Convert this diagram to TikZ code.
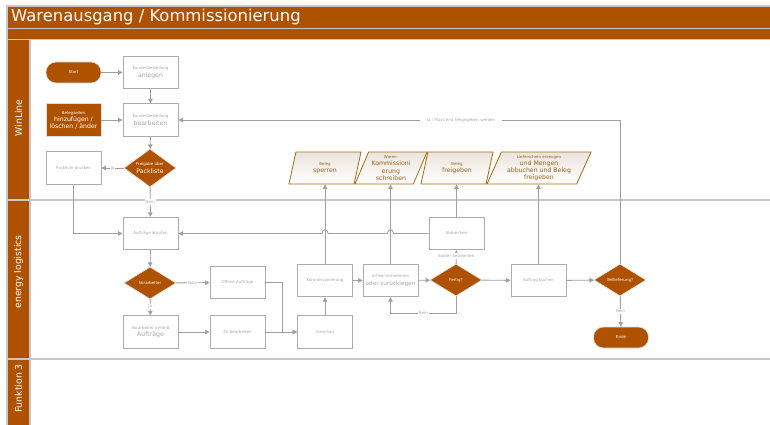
\documentclass[tikz,border=0pt]{standalone}
\usepackage{fontspec}
\setmainfont{DejaVu Sans}
\usetikzlibrary{shapes.geometric,arrows.meta}
\definecolor{brn}{RGB}{175,82,0}
\definecolor{bgray}{RGB}{172,172,172}
\definecolor{tgray}{RGB}{168,168,168}
\definecolor{cgray}{RGB}{160,160,160}
\definecolor{lgray}{RGB}{200,200,200}
\definecolor{gold}{RGB}{160,108,20}
\definecolor{goldtxt}{RGB}{150,100,30}
\definecolor{pfill}{RGB}{236,228,220}
\newcommand{\tny}{\fontsize{4}{5}\selectfont}
\newcommand{\med}{\fontsize{6.2}{7.2}\selectfont}
\begin{document}
\begin{tikzpicture}[x=1pt,y=-1pt,
 box/.style={draw=bgray, line width=0.9pt, fill=white, minimum width=55pt, minimum height=32.5pt, inner sep=1pt, text=tgray, align=center, font=\med},
 bbox/.style={box, fill=brn, draw=white!75!gray, text=white},
 dia/.style={diamond, draw=white!75!gray, line width=0.6pt, fill=brn, minimum width=52pt, minimum height=32pt, inner sep=0pt, text=white, align=center, font=\med},
 term/.style={rectangle, rounded corners=10pt, draw=white!75!gray, line width=0.6pt, fill=brn, minimum width=55pt, minimum height=21pt, text=white, inner sep=0pt, font=\tny},
 para/.style={trapezium, trapezium left angle=62, trapezium right angle=118, trapezium stretches body, draw=gold, line width=0.8pt, top color=pfill, bottom color=white, minimum height=32pt, inner sep=0.5pt, text=goldtxt, align=center, font=\med},
 conn/.style={draw=cgray, line width=0.9pt, -{Triangle[length=4.5pt,width=4.5pt]}},
 lab/.style={fill=white, text=tgray, inner sep=1pt, font=\tny},
 lanebox/.style={draw=lgray, line width=1.2pt, fill=brn},
 lanetxt/.style={rotate=90, text=white, font=\fontsize{9.3}{11}\selectfont, inner sep=0pt},
]
\useasboundingbox (0,0) rectangle (770,425);
\fill[white] (0,0) rectangle (770,425);
% header and lanes
\draw[lanebox] (7,6) rectangle (773,28.5);
\draw[lanebox] (7,28.5) rectangle (773,39.5);
\draw[lanebox] (7,39.5) rectangle (30,200);
\draw[lanebox] (7,200) rectangle (30,359);
\draw[lanebox] (7,359) rectangle (30,428);
\draw[lgray, line width=1.5pt] (30,200) -- (773,200);
\draw[lgray, line width=1.5pt] (30,359) -- (773,359);
\node[anchor=west, inner sep=0pt, text=white, font=\fontsize{16.4}{18}\selectfont] (title) at (11,17) {Warenausgang / Kommissionierung};
\node[lanetxt] (l1) at (18.5,118) {WinLine};
\node[lanetxt] (l2) at (18.5,272) {energy logistics};
\node[lanetxt] (l3) at (18.5,388.5) {Funktion 3};

% nodes lane 1
\node[term] (start) at (73.5,72.5) {Start};
\node[box] (anl) at (150.5,72.5) {\tny Kundenbestellung\\[0.5pt]anlegen};
\node[bbox] (bel) at (73.5,120) {\tny Belegzeilen\\hinzufügen /\\löschen / änder};
\node[box] (bear) at (150.5,120) {\tny Kundenbestellung\\[0.5pt]bearbeiten};
\node[dia] (frei) at (150,168) {\tny Freigabe über\\Packliste};
\node[box] (pd) at (73.5,168) {\tny Packliste drucken};

\node[para, minimum width=72pt] (sperr) at (325,168) {\tny Beleg\\[0.5pt]sperren};
\node[para, minimum width=72pt] (wk) at (391,168) {\tny Waren-\\Kommissioni\\erung\\schreiben};
\node[para, minimum width=72pt] (bf) at (457,168) {\tny Beleg\\[0.5pt]freigeben};
\node[para, minimum width=104pt] (lief) at (539,168) {\tny Lieferschein erzeugen\\und Mengen\\abbuchen und Beleg\\freigeben};

% nodes lane 2
\node[box] (abr) at (150.5,233.5) {\tny Aufträge abrufen};
\node[dia] (vora) at (150,283) {\tny Vorarbeiter};
\node[box] (off) at (237.5,282.5) {\tny Offene Aufträge};
\node[box] (vert) at (150.5,332) {\tny Vorarbeiter verteilt\\[0.5pt]Aufträge};
\node[box] (zub) at (237.5,332) {\tny Zu bearbeiten};
\node[box] (vor) at (325,332) {\tny Vorschau};
\node[box] (kom) at (325,280.5) {\tny Kommissionierung};
\node[box, font=\fontsize{5.7}{6.8}\selectfont] (art) at (390.5,280.5) {\tny Artikel entnehmen\\[0.5pt]oder zurücklegen};
\node[dia] (fert) at (456,280) {\tny Fertig?};
\node[box] (abb) at (456.5,233.5) {\tny Abbrechen};
\node[box] (buch) at (538.5,280.5) {\tny Auftrag buchen};
\node[dia] (teil) at (620,280) {\tny Teillieferung?};
\node[term] (ende) at (621,337.5) {Ende};

% connectors
\draw[conn] (start) -- (anl);
\draw[conn] (anl) -- (bear);
\draw[conn] (bel) -- (bear);
\draw[conn] (bear) -- (frei);
\draw[conn] (frei) -- node[lab]{Ja} (pd);
\draw[conn] (frei) -- node[lab, pos=0.5]{Nein} (abr);
\draw[conn] (pd.south) |- (abr.west);
\draw[conn] (abr) -- (vora);
\draw[conn] (vora) -- node[lab, pos=0.5]{Nein} (off);
\draw[conn] (vora) -- node[lab, pos=0.45]{Ja} (vert);
\draw[conn] (vert) -- (zub);
\draw[conn] (zub) -- (vor);
\draw[conn] (off.east) -- (282,282.5) -- (282,332) -- (vor.west);
\draw[conn] (vor) -- (kom);
\draw[conn] (kom) -- (art);
\draw[conn] (art) -- (fert);
\draw[conn] (fert) -- (buch);
\draw[conn] (buch) -- (teil);
\draw[conn] (teil) -- node[lab, pos=0.5]{Nein} (ende);
\draw[conn] (fert) -- node[lab, pos=0.55]{Später bearbeiten} (abb);
\coordinate (lp) at (390.5,313);
\draw[conn] (fert.south) |- (lp) node[lab, pos=0.75]{Nein} -- (art.south);
\draw[conn] (abb.west) -- (393.5,233.5) .. controls (393.5,228.5) and (387.5,228.5) .. (387.5,233.5)
  -- (328,233.5) .. controls (328,228.5) and (322,228.5) .. (322,233.5) -- (abr.east);
\draw[conn] (kom.north) -- (kom.north |- sperr.south);
\draw[conn] (art.north) -- (art.north |- wk.south);
\draw[conn] (abb.north) -- (abb.north |- bf.south);
\draw[conn] (buch.north) -- (buch.north |- lief.south);
\draw[conn] (teil.north) |- node[lab, pos=0.68, inner xsep=7pt]{Ja / Muss erst freigegeben werden} (bear.east);
\end{tikzpicture}
\end{document}
